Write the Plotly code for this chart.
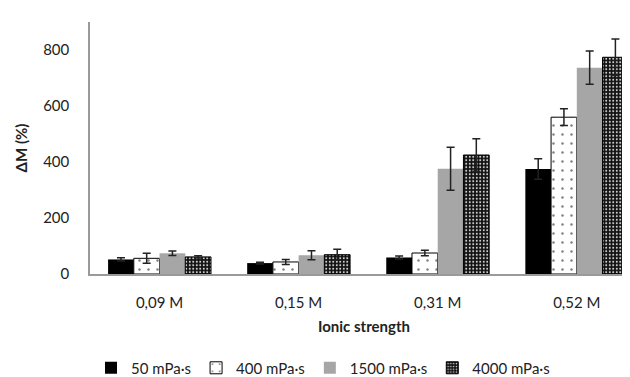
import plotly.graph_objects as go

categories = ["0,09 M", "0,15 M", "0,31 M", "0,52 M"]
series_names = ["50 mPa·s", "400 mPa·s", "1500 mPa·s", "4000 mPa·s"]

v50 = [52, 39, 59, 375]
v400 = [56, 43, 75, 560]
v1500 = [74, 67, 376, 737]
v4000 = [61, 69, 425, 774]

e50 = [6, 3, 5, 37]
e400 = [18, 9, 10, 30]
e1500 = [8, 16, 77, 59]
e4000 = [4, 19, 58, 65]

values = [v50, v400, v1500, v4000]
errors = [e50, e400, e1500, e4000]

styles = [
    dict(color="#000000", line=dict(color="#000000", width=0)),
    dict(color="#ffffff", line=dict(color="#000000", width=1),
         pattern=dict(shape=".", fgcolor="#000000", bgcolor="#ffffff", size=9, solidity=0.06)),
    dict(color="#a6a6a6", line=dict(color="#a6a6a6", width=0)),
    dict(color="#111111", line=dict(color="#000000", width=1),
         pattern=dict(shape=".", fgcolor="#d8d8d8", bgcolor="#111111", size=3.5, solidity=0.25, fillmode="replace")),
]

fig = go.Figure()
for name, vals, errs, st in zip(series_names, values, errors, styles):
    fig.add_trace(go.Bar(
        x=categories, y=vals, name=name, marker=st,
        error_y=dict(type="data", array=errs, visible=True, color="#222222", thickness=1.5, width=4),
    ))

font_family = "Lato, Open Sans, sans-serif"
fig.update_layout(
    width=630, height=377,
    margin=dict(l=82, r=0, t=14, b=111, autoexpand=False),
    paper_bgcolor="white", plot_bgcolor="white",
    barmode="group", bargap=0.26, bargroupgap=0,
    font=dict(family=font_family, size=15, color="#222222"),
    showlegend=True,
    legend=dict(orientation="h", xref="container", x=0.5, xanchor="center",
                yref="container", y=0.045, yanchor="middle",
                font=dict(size=15), itemwidth=30, traceorder="normal"),
    xaxis=dict(range=[-0.5, 3.44], showline=True, linecolor="#9a9a9a", linewidth=1.5,
               ticks="", showgrid=False, ticklabelstandoff=14,
               title=dict(text="<b>Ionic strength</b>", font=dict(size=15), standoff=12)),
    yaxis=dict(range=[0, 900], tickvals=[0, 200, 400, 600, 800], showline=True,
               linecolor="#9a9a9a", linewidth=1.5, ticks="", showgrid=False, zeroline=False,
               ticklabelstandoff=16,
               title=dict(text="<b>ΔM (%)</b>", font=dict(size=15), standoff=12)),
)

fig.write_html("out.html")
